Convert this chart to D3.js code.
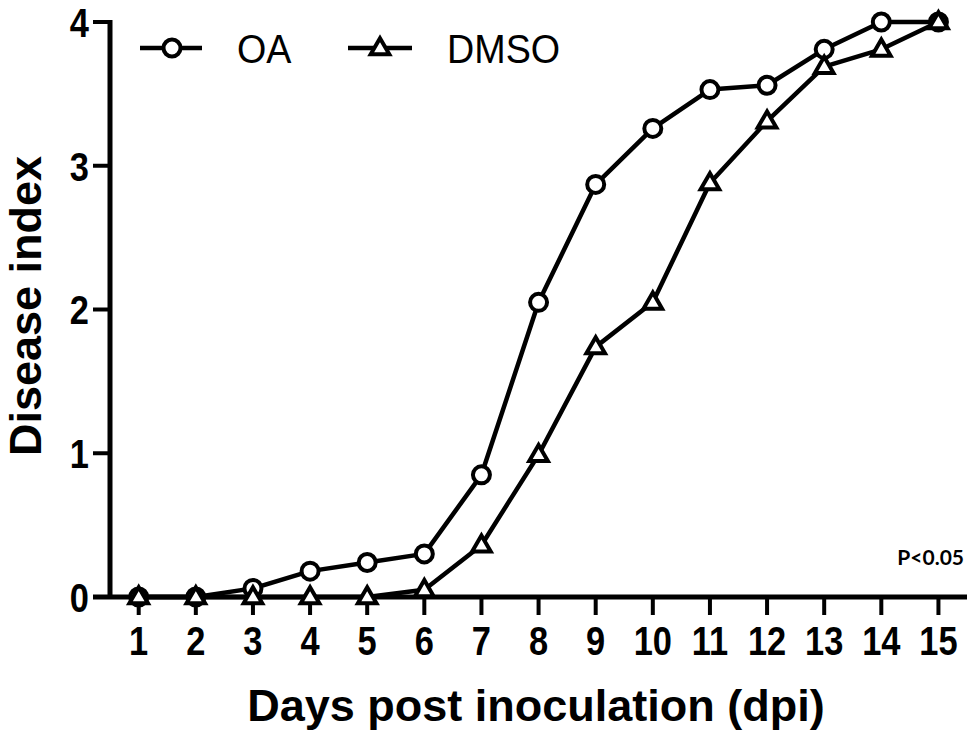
<!DOCTYPE html>
<html>
<head>
<meta charset="utf-8">
<script src="https://cdn.jsdelivr.net/npm/d3@7.9.0/dist/d3.min.js"></script>
<style>
  body { margin: 0; background: #fff; }
  svg { display: block; }
  .tick-label { font-family: "Liberation Sans", Arial, sans-serif; font-weight: bold; font-size: 41px; }
  .axis-title { font-family: "Liberation Sans", Arial, sans-serif; font-weight: bold; font-size: 45px; }
  .legend-text { font-family: "Liberation Sans", Arial, sans-serif; font-size: 41px; }
  .note { font-family: Lato, "Open Sans", sans-serif; font-weight: bold; font-size: 21px; }
</style>
</head>
<body>
<svg id="chart" width="975" height="739"></svg>
<script>
const days = [1, 2, 3, 4, 5, 6, 7, 8, 9, 10, 11, 12, 13, 14, 15];
const oaValues = [0, 0, 0.06, 0.18, 0.24, 0.30, 0.85, 2.05, 2.87, 3.26, 3.53, 3.56, 3.81, 4.0, 4.0];
const dmsoValues = [0, 0, 0, 0, 0, 0.05, 0.36, 0.99, 1.74, 2.05, 2.88, 3.31, 3.69, 3.81, 4.0];
const yTicks = [0, 1, 2, 3, 4];
const seriesNames = ['OA', 'DMSO'];

const svg = d3.select('#chart');

// plot frame
const x = d3.scaleLinear().domain([0.2, 15.5]).range([93, 967]);
const y = d3.scaleLinear().domain([0, 4]).range([597, 22]);
const yAxisX = 110;
const narrow = 0.84; // tick labels use a narrow bold face

// x axis line and ticks
svg.append('line')
  .attr('x1', x.range()[0]).attr('x2', x.range()[1])
  .attr('y1', y(0)).attr('y2', y(0))
  .attr('stroke', '#000').attr('stroke-width', 5);

svg.selectAll('.xtick')
  .data(days)
  .join('line')
  .attr('class', 'xtick')
  .attr('x1', (d) => x(d)).attr('x2', (d) => x(d))
  .attr('y1', y(0)).attr('y2', y(0) + 18)
  .attr('stroke', '#000').attr('stroke-width', 4);

svg.selectAll('.xlabel')
  .data(days)
  .join('text')
  .attr('class', 'tick-label xlabel')
  .attr('transform', (d) => `translate(${x(d)},655) scale(${narrow},1)`)
  .attr('text-anchor', 'middle')
  .text((d) => d);

// y axis
svg.append('line')
  .attr('x1', yAxisX).attr('x2', yAxisX)
  .attr('y1', y(4) - 2).attr('y2', y(0))
  .attr('stroke', '#000').attr('stroke-width', 5);

svg.selectAll('.ytick')
  .data(yTicks.filter((d) => d > 0))
  .join('line')
  .attr('class', 'ytick')
  .attr('x1', 93).attr('x2', yAxisX)
  .attr('y1', (d) => y(d)).attr('y2', (d) => y(d))
  .attr('stroke', '#000').attr('stroke-width', 4);

svg.selectAll('.ylabel')
  .data(yTicks)
  .join('text')
  .attr('class', 'tick-label ylabel')
  .attr('transform', (d) => `translate(89,${y(d)}) scale(${narrow},1)`)
  .attr('dy', '0.36em')
  .attr('text-anchor', 'end')
  .text((d) => d);

// axis titles
svg.append('text')
  .attr('class', 'axis-title')
  .attr('x', 536).attr('y', 721)
  .attr('text-anchor', 'middle')
  .text('Days post inoculation (dpi)');

svg.append('text')
  .attr('class', 'axis-title')
  .attr('transform', 'translate(41,306) rotate(-90)')
  .attr('text-anchor', 'middle')
  .text('Disease index');

// series
const line = d3.line()
  .x((d) => x(d[0]))
  .y((d) => y(d[1]));

const oaData = days.map((d, i) => [d, oaValues[i]]);
const dmsoData = days.map((d, i) => [d, dmsoValues[i]]);

const triangle = d3.symbol().type(d3.symbolTriangle).size(150);

svg.append('path')
  .attr('d', line(oaData))
  .attr('fill', 'none').attr('stroke', '#000').attr('stroke-width', 4.5)
  .attr('stroke-linejoin', 'round');

svg.append('path')
  .attr('d', line(dmsoData))
  .attr('fill', 'none').attr('stroke', '#000').attr('stroke-width', 4.5)
  .attr('stroke-linejoin', 'round');

svg.selectAll('.oa-pt')
  .data(oaData)
  .join('circle')
  .attr('class', 'oa-pt')
  .attr('cx', (d) => x(d[0]))
  .attr('cy', (d) => y(d[1]))
  .attr('r', 8.5)
  .attr('fill', '#fff').attr('stroke', '#000').attr('stroke-width', 4);

svg.selectAll('.dmso-pt')
  .data(dmsoData)
  .join('path')
  .attr('class', 'dmso-pt')
  .attr('transform', (d) => `translate(${x(d[0])},${y(d[1]) + 1})`)
  .attr('d', triangle)
  .attr('fill', '#fff').attr('stroke', '#000').attr('stroke-width', 4)
  .attr('stroke-linejoin', 'miter');

// legend
const legendItems = [
  { name: seriesNames[0], x1: 140, x2: 202, cx: 172, tx: 237 },
  { name: seriesNames[1], x1: 348, x2: 412, cx: 380, tx: 447 }
];

legendItems.forEach((item, i) => {
  const g = svg.append('g');
  g.append('line')
    .attr('x1', item.x1).attr('x2', item.x2)
    .attr('y1', 48).attr('y2', 48)
    .attr('stroke', '#000').attr('stroke-width', 4.5);
  if (i === 0) {
    g.append('circle')
      .attr('cx', item.cx).attr('cy', 48).attr('r', 8.5)
      .attr('fill', '#fff').attr('stroke', '#000').attr('stroke-width', 4);
  } else {
    g.append('path')
      .attr('transform', `translate(${item.cx},${49})`)
      .attr('d', triangle)
      .attr('fill', '#fff').attr('stroke', '#000').attr('stroke-width', 4);
  }
  g.append('text')
    .attr('class', 'legend-text')
    .attr('transform', `translate(${item.tx},63) scale(0.92,1)`)
    .text(item.name);
});

svg.append('text')
  .attr('class', 'note')
  .attr('x', 964).attr('y', 565)
  .attr('text-anchor', 'end')
  .text('P<0.05');
</script>
</body>
</html>
